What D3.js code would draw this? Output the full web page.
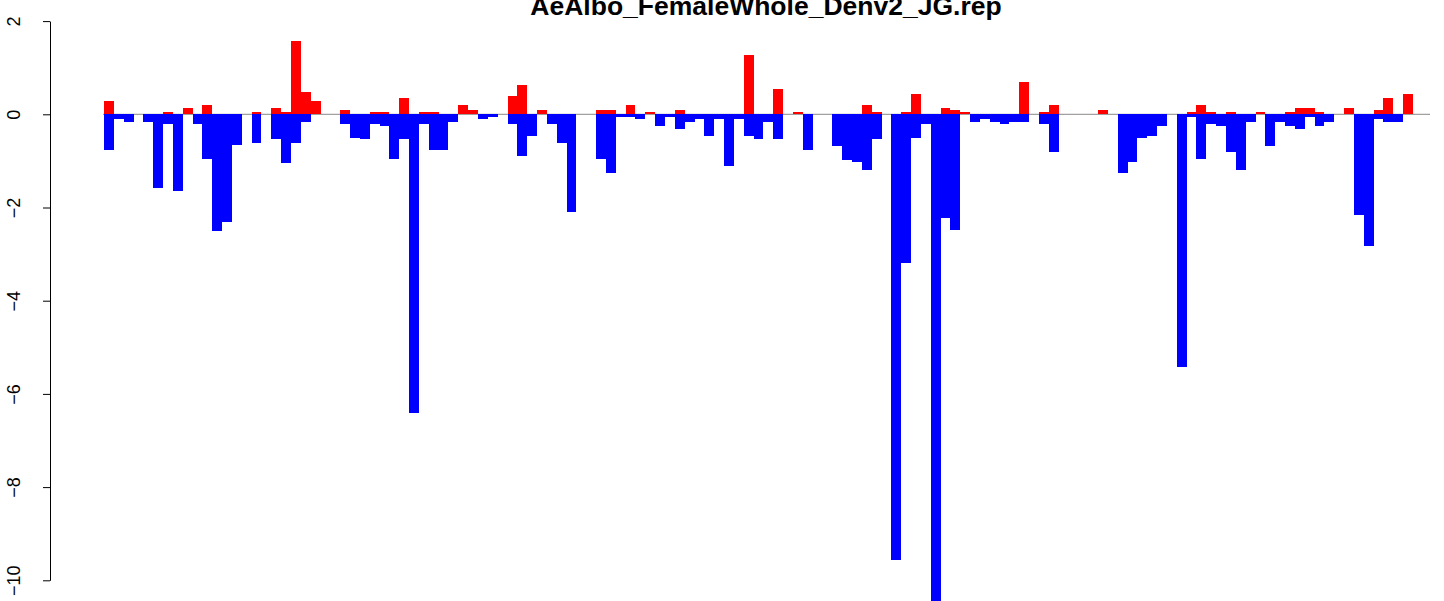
<!DOCTYPE html>
<html>
<head>
<meta charset="utf-8">
<script src="https://cdn.jsdelivr.net/npm/d3@7"></script>
<style>
  html, body { margin: 0; padding: 0; background: #fff; }
  svg { display: block; }
  text { font-family: "Liberation Sans", Arial, Helvetica, sans-serif; }
</style>
</head>
<body>
<svg id="chart" width="1444" height="601"></svg>
<script>
// Positive (red) and negative (blue) values for each of the 133 positions
const upValues = [
  0.29, 0, 0, 0, 0, 0, 0.05, 0, 0.14, 0,
  0.2, 0, 0, 0, 0, 0.05, 0, 0.14, 0.05, 1.57,
  0.48, 0.29, 0, 0, 0.09, 0, 0, 0.05, 0.05, 0,
  0.35, 0, 0.05, 0.05, 0, 0, 0.2, 0.09, 0, 0,
  0, 0.39, 0.63, 0, 0.09, 0, 0, 0, 0, 0,
  0.09, 0.09, 0, 0.2, 0, 0.05, 0, 0, 0.09, 0,
  0, 0, 0, 0, 0, 1.27, 0, 0, 0.54, 0,
  0.05, 0, 0, 0, 0, 0, 0, 0.2, 0.05, 0,
  0, 0.05, 0.44, 0, 0, 0.14, 0.09, 0.05, 0, 0,
  0, 0, 0, 0.69, 0, 0.05, 0.2, 0, 0, 0,
  0, 0.09, 0, 0, 0, 0, 0, 0, 0, 0,
  0.05, 0.2, 0.05, 0, 0.05, 0, 0, 0.05, 0, 0,
  0.05, 0.14, 0.14, 0.05, 0, 0, 0.14, 0, 0, 0.09,
  0.35, 0, 0.44
];
const downValues = [
  -0.76, -0.11, -0.16, 0, -0.16, -1.59, -0.2, -1.64, 0, -0.2,
  -0.95, -2.51, -2.32, -0.65, 0, -0.61, 0, -0.54, -1.04, -0.61,
  -0.16, 0, 0, 0, -0.2, -0.5, -0.54, -0.2, -0.26, -0.95,
  -0.54, -6.41, -0.2, -0.76, -0.76, -0.16, 0, 0, -0.11, -0.05,
  0, -0.2, -0.89, -0.46, 0, -0.2, -0.61, -2.09, 0, 0,
  -0.95, -1.25, -0.05, -0.05, -0.11, 0, -0.26, -0.05, -0.31, -0.16,
  -0.11, -0.46, -0.11, -1.1, -0.11, -0.46, -0.54, -0.16, -0.54, 0,
  0, -0.76, 0, 0, -0.69, -0.99, -1.03, -1.19, -0.54, 0,
  -9.56, -3.19, -0.5, -0.2, -10.9, -2.22, -2.48, 0, -0.16, -0.11,
  -0.16, -0.2, -0.16, -0.16, 0, -0.2, -0.8, 0, 0, 0,
  0, 0, 0, -1.25, -1.03, -0.5, -0.46, -0.26, 0, -5.42,
  -0.05, -0.95, -0.2, -0.26, -0.8, -1.19, -0.16, 0, -0.69, -0.16,
  -0.26, -0.31, -0.05, -0.26, -0.16, 0, 0, -2.17, -2.83, -0.11,
  -0.16, -0.16, 0
];
const yTicks = [2, 0, -2, -4, -6, -8, -10];
const chartTitle = "AeAlbo_FemaleWhole_Denv2_JG.rep";

const svg = d3.select("#chart");
const n = upValues.length;

const x = d3.scaleLinear().domain([0, n]).range([104, 1413]);
const y = d3.scaleLinear().domain([-10, 2]).range([580.3, 21.1]);

// zero reference line
svg.append("line")
  .attr("x1", x(0) - 1).attr("x2", 1430)
  .attr("y1", y(0)).attr("y2", y(0))
  .attr("stroke", "#a0a0a0").attr("stroke-width", 1.2);

// red (positive) bars
svg.append("g").selectAll("rect")
  .data(upValues.map((v, i) => ({v, i})).filter(d => d.v !== 0))
  .join("rect")
  .attr("x", d => x(d.i))
  .attr("width", d => x(d.i + 1) - x(d.i))
  .attr("y", d => y(d.v))
  .attr("height", d => y(0) - y(d.v))
  .attr("fill", "#ff0000")
  .attr("shape-rendering", "crispEdges");

// blue (negative) bars
svg.append("g").selectAll("rect")
  .data(downValues.map((v, i) => ({v, i})).filter(d => d.v !== 0))
  .join("rect")
  .attr("x", d => x(d.i))
  .attr("width", d => x(d.i + 1) - x(d.i))
  .attr("y", d => y(0))
  .attr("height", d => y(d.v) - y(0))
  .attr("fill", "#0000ff")
  .attr("shape-rendering", "crispEdges");

// y axis
const axisX = 50;
const yAxis = svg.append("g")
  .attr("transform", `translate(${axisX},0)`)
  .call(d3.axisLeft(y).tickValues(yTicks).tickSize(7).tickSizeOuter(0)
        .tickFormat(d => d3.format("")(d).replace("-", "\u2212")));
yAxis.select(".domain").attr("stroke", "#000").attr("stroke-width", 1);
yAxis.selectAll(".tick line").attr("stroke", "#000").attr("stroke-width", 1);
yAxis.selectAll(".tick text")
  .attr("x", null).attr("dy", null)
  .attr("transform", `translate(${14 - axisX},0) rotate(-90)`)
  .attr("text-anchor", "middle")
  .attr("dominant-baseline", "central")
  .attr("fill", "#000")
  .style("font-size", "18px");

// title
svg.append("text")
  .attr("x", 766).attr("y", 15)
  .attr("text-anchor", "middle")
  .style("font-weight", "bold")
  .style("font-size", "26.5px")
  .attr("fill", "#000")
  .text(chartTitle);
</script>
</body>
</html>
